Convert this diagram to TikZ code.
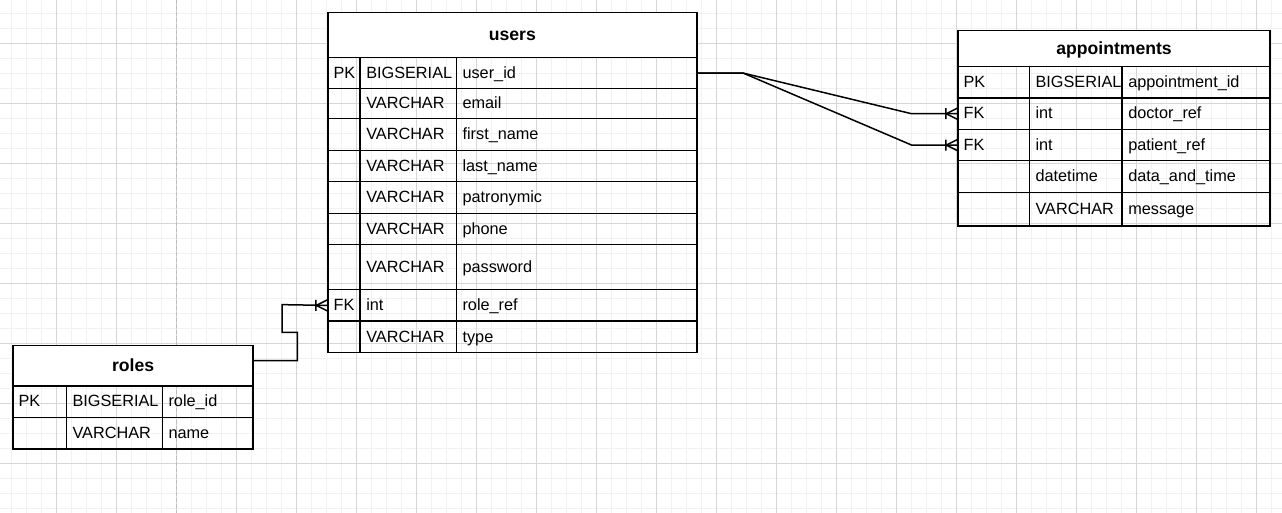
\documentclass[tikz,border=0pt]{standalone}
\usepackage{fontspec}
\setmainfont{Liberation Sans}
\usetikzlibrary{calc}
\definecolor{minorgrid}{HTML}{F2F2F2}
\definecolor{majorgrid}{HTML}{D6D6D6}
\definecolor{pageline}{HTML}{BDBDBD}
\tikzset{
  border/.style={line width=1.125pt, draw=black},
  titlebox/.style={border, fill=white, anchor=north west, inner sep=0pt,
    font=\fontsize{13.2}{16}\selectfont\bfseries, text height=0.9em, text depth=0pt},
  rowbox/.style={border, anchor=north west, inner sep=0pt},
  celltext/.style={anchor=west, inner sep=0pt, font=\fontsize{12.2}{14}\selectfont,
    text height=0.9em, text depth=0pt},
  link/.style={line width=1.125pt, draw=black},
  minorline/.style={draw=minorgrid, line width=0.75pt},
  majorline/.style={draw=majorgrid, line width=0.75pt},
  pagebreak/.style={draw=pageline, line width=0.75pt, dash pattern=on 3pt off 1.5pt},
}
% #1 name, #2 y top, #3 y bottom, #4 key, #5 type, #6 field
\newcommand\tabrow[6]{%
  \node[rowbox, minimum width={\tw*0.75pt}, minimum height={(#3-#2)*0.75pt}] (#1) at (\tx,#2) {};
  \draw[border] (\ca,#2) -- (\ca,#3) (\cb,#2) -- (\cb,#3);
  \node[celltext] (#1-k) at ({\tx+6},{(#2+#3)/2}) {#4};
  \node[celltext] (#1-t) at ({\ca+6},{(#2+#3)/2}) {#5};
  \node[celltext] (#1-f) at ({\cb+6},{(#2+#3)/2}) {#6};
}
\newcommand\crowfoot[1]{%
  \begin{scope}[shift={(#1)}]
    \draw[link] (-11.5,-5.5) -- (-11.5,5.5) (-11,0) -- (0,-5.5) (-11,0) -- (0,5.5);
  \end{scope}}
\begin{document}
\begin{tikzpicture}[x=0.75pt, y=-0.75pt]
  \useasboundingbox (0,0) rectangle (1282,513);
  \fill[white] (0,0) rectangle (1282,513);
  % grid
  \foreach \i in {0,...,84} \draw[minorline] ({11.67+15*\i},0) -- ({11.67+15*\i},513);
  \foreach \j in {0,...,33} \draw[minorline] (0,{13.33+15*\j}) -- (1282,{13.33+15*\j});
  \foreach \i in {0,...,20} \draw[majorline] ({56.67+60*\i},0) -- ({56.67+60*\i},513);
  \foreach \j in {0,...,7} \draw[majorline] (0,{43.33+60*\j}) -- (1282,{43.33+60*\j});
  \draw[pagebreak] (176.67,0) -- (176.67,513);

  % users table
  \def\tx{327.3}\def\tw{368.7}\def\ca{360}\def\cb{456.3}
  \node[titlebox, minimum width={\tw*0.75pt}, minimum height={45*0.75pt}] (users) at (\tx,11.7) {users};
  \tabrow{users-pk}{56.7}{88}{PK}{BIGSERIAL}{user\_id}
  \tabrow{users-email}{88}{118}{}{VARCHAR}{email}
  \tabrow{users-first}{118}{149.7}{}{VARCHAR}{first\_name}
  \tabrow{users-last}{149.7}{181}{}{VARCHAR}{last\_name}
  \tabrow{users-patr}{181}{212.7}{}{VARCHAR}{patronymic}
  \tabrow{users-phone}{212.7}{244}{}{VARCHAR}{phone}
  \tabrow{users-pass}{244}{289}{}{VARCHAR}{password}
  \tabrow{users-role}{289}{320.3}{FK}{int}{role\_ref}
  \tabrow{users-type}{320.3}{352}{}{VARCHAR}{type}

  % appointments table
  \def\tx{957.3}\def\tw{312}\def\ca{1029.3}\def\cb{1122}
  \node[titlebox, minimum width={\tw*0.75pt}, minimum height={35.7*0.75pt}] (appt) at (\tx,30) {appointments};
  \tabrow{appt-pk}{65.7}{97.3}{PK}{BIGSERIAL}{appointment\_id}
  \tabrow{appt-doc}{97.3}{128.7}{FK}{int}{doctor\_ref}
  \tabrow{appt-pat}{128.7}{160}{FK}{int}{patient\_ref}
  \tabrow{appt-date}{160}{192}{}{datetime}{data\_and\_time}
  \tabrow{appt-msg}{192}{225.3}{}{VARCHAR}{message}

  % roles table
  \def\tx{12.3}\def\tw{240}\def\ca{66.3}\def\cb{162.3}
  \node[titlebox, minimum width={\tw*0.75pt}, minimum height={40.6*0.75pt}] (roles) at (\tx,344.7) {roles};
  \tabrow{roles-pk}{385.3}{416.7}{PK}{BIGSERIAL}{role\_id}
  \tabrow{roles-name}{416.7}{448}{}{VARCHAR}{name}

  % connectors
  \draw[link] ([yshift=3.75pt]roles.east) -| (297.3,332.3) -| (282,304.65) -- (users-role.west);
  \crowfoot{users-role.west}
  \draw[link] (users-pk.east) -- ++(45.7,0) -- ([xshift=-34.2pt]appt-doc.west) -- (appt-doc.west);
  \draw[link] (users-pk.east) -- ++(45.7,0) -- ([xshift=-34.2pt]appt-pat.west) -- (appt-pat.west);
  \crowfoot{appt-doc.west}
  \crowfoot{appt-pat.west}
\end{tikzpicture}
\end{document}
